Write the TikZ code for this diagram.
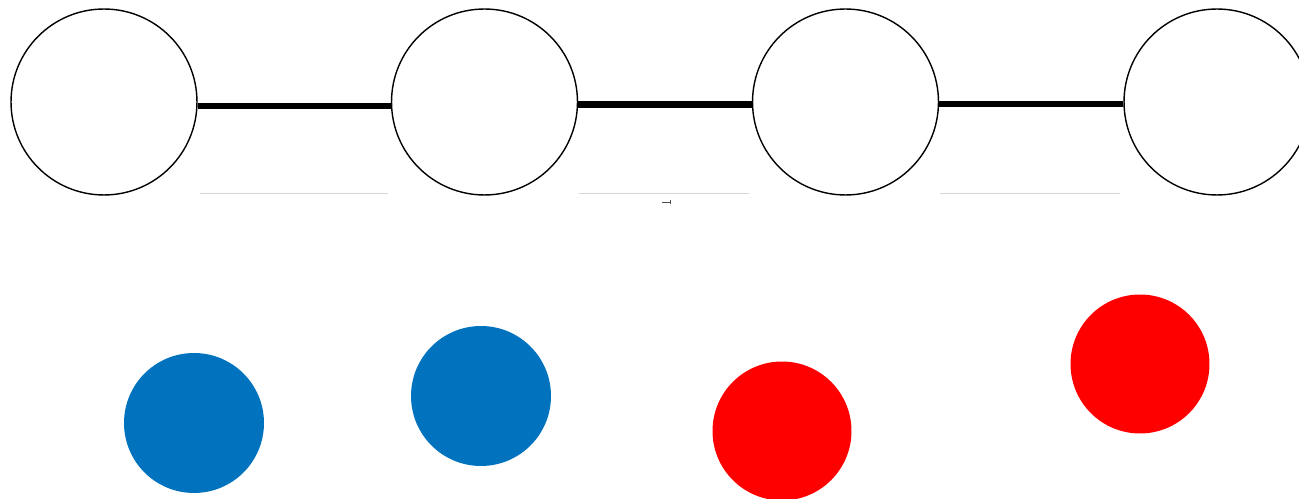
\documentclass[tikz,border=0pt]{standalone}
\usepackage{tikz}
\usetikzlibrary{positioning,calc}
\usetikzlibrary{arrows.meta}
\definecolor{DotBlue}{RGB}{0,114,190}
\definecolor{DotRed}{RGB}{255,0,0}
\definecolor{FaintGray}{RGB}{215,215,215}
\tikzset{
  site/.style={circle,draw=black,fill=white,line width=0.8pt,minimum size=3.72cm,inner sep=0pt},
  bond/.style={draw=black,line width=3.9pt},
  guide/.style={draw=FaintGray,line width=0.5pt},
}
\tikzset{blueball/.style={circle,fill=DotBlue,minimum size=2.8cm,inner sep=0pt}, redball/.style={circle,fill=DotRed,minimum size=2.78cm,inner sep=0pt}}
\begin{document}
\begin{tikzpicture}[x=0.02cm,y=-0.02cm]
\useasboundingbox (0,0) rectangle (1299,499);
\begin{scope}
\clip (0,0) rectangle (1299,499);
\node[site] (s1) at (104,102) {};
\node[site] (s2) at (484.5,102) {};
\node[site] (s3) at (845.5,102) {};
\node[site] (s4) at (1217,102) {};
\draw[bond] ([yshift=-0.08cm]s1.east) -- ([yshift=-0.08cm]s2.west);
\draw[bond] ([yshift=-0.05cm]s2.east) -- ([yshift=-0.05cm]s3.west);
\draw[bond] ([yshift=-0.04cm]s3.east) -- ([yshift=-0.04cm]s4.west);
\draw[guide] ([xshift=0.04cm,yshift=0.04cm]s1.east |- s1.south) -- ([xshift=-0.06cm,yshift=0.04cm]s2.west |- s2.south);
\draw[guide] ([xshift=0.02cm,yshift=0.04cm]s2.east |- s2.south) -- ([xshift=-0.06cm,yshift=0.04cm]s3.west |- s3.south);
\draw[guide] ([xshift=0.02cm,yshift=0.04cm]s3.east |- s3.south) -- ([xshift=-0.06cm,yshift=0.04cm]s4.west |- s4.south);
\coordinate (t1) at (662,202);
\coordinate (t2) at (671,202);
\draw[black!70,line width=0.3pt,-{Bar[width=2pt]}] (t1) -- (t2);
\node[blueball] (b1) at (194,423) {};
\node[blueball] (b2) at (481,396) {};
\node[redball] (r1) at (782,431) {};
\node[redball] (r2) at (1140,364) {};
\end{scope}
\end{tikzpicture}
\end{document}
